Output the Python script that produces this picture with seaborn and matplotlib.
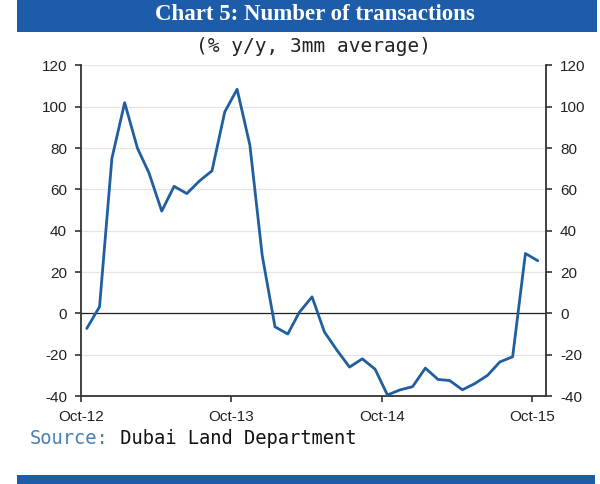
import matplotlib
matplotlib.use("Agg")
import matplotlib.pyplot as plt
import matplotlib.patches as mpatches
import pandas as pd
import seaborn as sns

# ---------------------------------------------------------------------------
# Data: number of transactions, % y/y, 3mm average (Oct-12 .. Oct-15)
# ---------------------------------------------------------------------------
months = pd.period_range("2012-10", "2015-10", freq="M")
pct_yoy = [
    -7.3, 3.2, 75.0, 102.0, 80.0, 68.0, 49.5, 61.5, 58.0, 64.0, 69.0, 97.5,
    108.5, 81.5, 28.0, -6.5, -10.0, 0.5, 8.0, -9.0, -18.0, -26.0, -22.0, -27.0,
    -39.5, -37.0, -35.5, -26.5, -32.0, -32.5, -37.0, -34.0, -30.0, -23.5, -21.0,
    29.0, 25.5,
]
tick_dates = ["2012-10-01", "2013-10-01", "2014-10-01", "2015-10-01"]
tick_labels = ["Oct-12", "Oct-13", "Oct-14", "Oct-15"]
y_ticks = [-40, -20, 0, 20, 40, 60, 80, 100, 120]

BAR_BLUE = "#1c5ca8"
LINE_BLUE = "#1f5f9f"
SOURCE_BLUE = "#4a7fb8"

df = pd.DataFrame({
    "date": months.to_timestamp() + pd.Timedelta(days=14),
    "pct": pct_yoy,
})

sns.set_theme(style="white")
plt.rcParams["font.family"] = ["Liberation Sans", "DejaVu Sans"]
plt.rcParams["axes.unicode_minus"] = False

fig = plt.figure(figsize=(6.0, 4.84), dpi=100)
ax = fig.add_axes([0.135, 0.1818, 0.775, 0.6829])

# header / footer bars
fig.add_artist(mpatches.Rectangle((17 / 600, 1 - 32 / 484), 580 / 600, 32 / 484,
                                  transform=fig.transFigure, color=BAR_BLUE, lw=0))
fig.add_artist(mpatches.Rectangle((17 / 600, 0), 578 / 600, 9 / 484,
                                  transform=fig.transFigure, color=BAR_BLUE, lw=0))
fig.text(315 / 600, 1 - 15 / 484, "Chart 5: Number of transactions", color="white",
         fontsize=16.5, fontweight="bold", family=["Liberation Serif", "DejaVu Serif"],
         ha="center", va="center")
fig.text(314 / 600, 1 - 47 / 484, "(% y/y, 3mm average)", color="#222222",
         fontsize=14, family="DejaVu Sans Mono", ha="center", va="center")

# gridlines + zero line
for y in y_ticks:
    ax.axhline(y, color="#e4e4e4", lw=0.9, zorder=0)
ax.axhline(0, color="#222222", lw=0.9, zorder=1)

sns.lineplot(data=df, x="date", y="pct", ax=ax, color=LINE_BLUE, lw=2.0, zorder=3)

ax.set_xlim(pd.Timestamp("2012-10-01"), pd.Timestamp("2015-11-04"))
ax.set_ylim(-40, 120)
ax.set_yticks(y_ticks)
ax.set_xticks(pd.to_datetime(tick_dates))
ax.set_xticklabels(tick_labels)
ax.set_xlabel("")
ax.set_ylabel("")
ax.grid(False)

for side in ["left", "right", "bottom"]:
    ax.spines[side].set_visible(True)
    ax.spines[side].set_color("#333333")
    ax.spines[side].set_linewidth(1.3)
ax.spines["top"].set_visible(False)

ax.tick_params(axis="y", which="both", left=True, right=True, labelleft=True,
               labelright=True, direction="out", length=4, width=1.2,
               color="#333333", labelsize=11, labelcolor="#222222", pad=6)
ax.tick_params(axis="x", bottom=True, direction="out", length=4, width=1.2,
               color="#333333", labelsize=11, labelcolor="#222222", pad=6)

# source line: blue label followed by black text
src = fig.text(30 / 600, 1 - 439 / 484, "Source:", color=SOURCE_BLUE,
               fontsize=13.5, family="DejaVu Sans Mono", ha="left", va="center")
ax.annotate(" Dubai Land Department", xy=(1, 0.5), xycoords=src, ha="left", va="center",
            fontsize=13.5, family="DejaVu Sans Mono", color="#111111")

fig.savefig("out.png", dpi=100)
